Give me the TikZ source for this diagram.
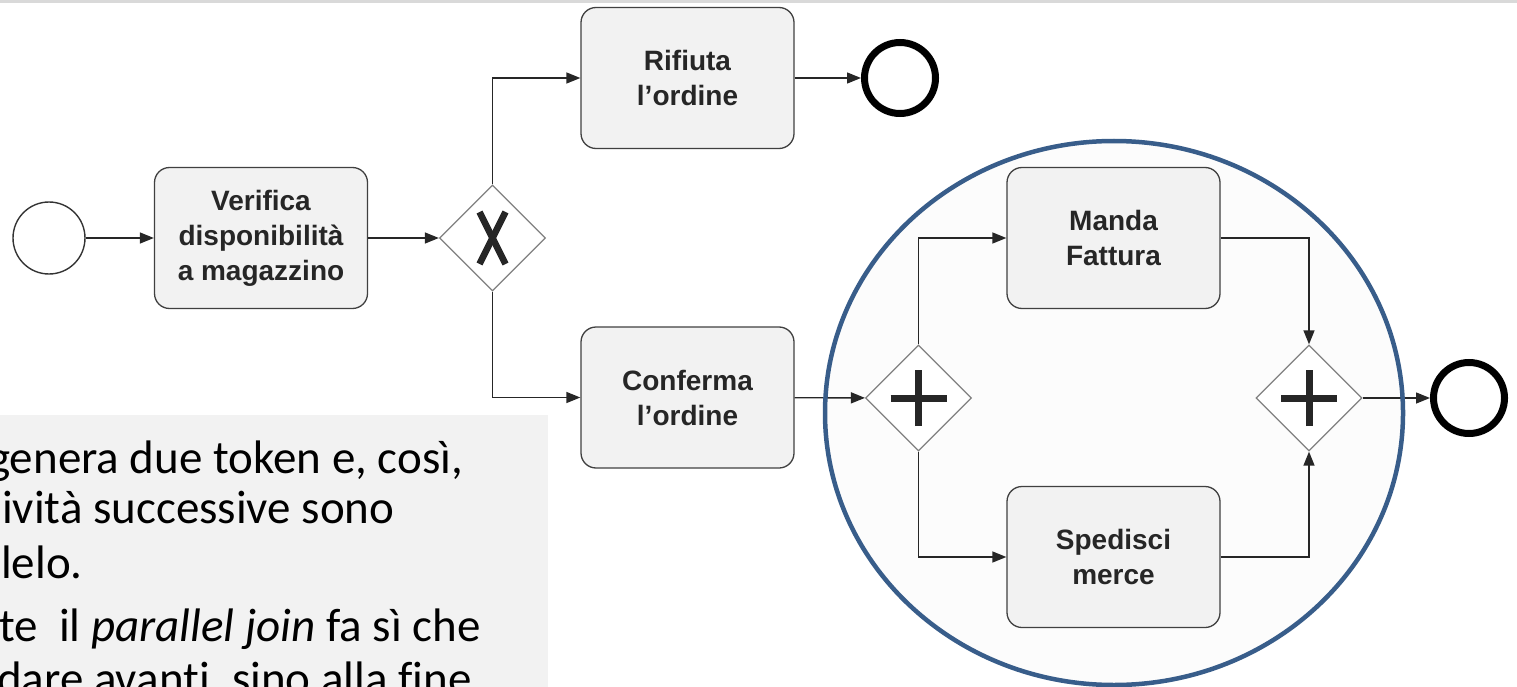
\documentclass[tikz,border=0pt]{standalone}
\usepackage{fontspec}
\setmainfont{Liberation Sans}
\newfontfamily\notefont[Ligatures=NoCommon]{Carlito}
\usetikzlibrary{shapes.geometric,arrows.meta}

\definecolor{taskfill}{HTML}{F2F2F2}
\definecolor{taskline}{HTML}{404040}
\definecolor{gateline}{HTML}{808080}
\definecolor{ringblue}{HTML}{385D8A}
\definecolor{ringfill}{HTML}{FCFCFC}
\definecolor{notefill}{HTML}{F2F2F2}
\definecolor{stripgray}{HTML}{D9D9D9}

\tikzset{
  task/.style={draw=taskline, fill=taskfill, rounded corners=15pt, line width=1.3pt,
    minimum width=213pt, minimum height=141pt, inner sep=0pt, align=center,
    text=black!85, font=\fontsize{28}{35}\selectfont\bfseries},
  gate/.style={diamond, draw=gateline, fill=white, line width=1.3pt,
    minimum width=106pt, minimum height=106pt, inner sep=0pt},
  startev/.style={circle, draw=black!80, line width=1.4pt, minimum size=72pt, inner sep=0pt},
  endev/.style={circle, draw=black, line width=7pt, minimum size=71pt, inner sep=0pt},
  flow/.style={draw=black!85, line width=1.4pt, -{Triangle[length=14pt,width=11pt]}},
  gatemark/.style={draw=black!85, line width=6.5pt},
  notetext/.style={anchor=base west, inner sep=0pt, font=\notefont\fontsize{47}{56}\selectfont},
}

\begin{document}
\begin{tikzpicture}[x=1pt,y=-1pt]
\useasboundingbox (0,0) rectangle (1517,687);
\clip (0,0) rectangle (1517,687);
\fill[stripgray] (0,0) rectangle (1517,3);
\fill[ringfill] (1114,413) ellipse [x radius=289, y radius=272];

% note box
\fill[notefill] (0,415) rectangle (548,687);
\node[notetext] (l1) at (-12,473) {genera due token e, così,};
\node[notetext] (l2) at (2,523) {ività successive sono};
\node[notetext] (l3) at (1,578) {lelo.};
\node[notetext] (l4) at (-1,641) {te\ \ il \textit{parallel join} fa sì che};
\node[notetext] (l5) at (-3,694) {dare avanti, sino alla fine};

% process
\node[startev] (start) at (49,238) {};
\node[task] (verifica) at (261,238) {Verifica\\disponibilità\\a magazzino};
\node[gate] (xor) at (492.5,238) {};
\node[task] (rifiuta) at (687.5,78) {Rifiuta\\l’ordine};
\node[endev] (endtop) at (900,78) {};
\node[task] (conferma) at (687.5,397.5) {Conferma\\l’ordine};
\node[gate] (split) at (918.5,398) {};
\node[task] (manda) at (1113.5,238) {Manda\\Fattura};
\node[task] (spedisci) at (1113.5,557) {Spedisci\\merce};
\node[gate] (join) at (1309,398) {};
\node[endev] (endright) at (1469,398) {};

\draw[gatemark] ([shift={(-13,-26)}]xor.center) -- ([shift={(13,26)}]xor.center);
\draw[gatemark] ([shift={(13,-26)}]xor.center) -- ([shift={(-13,26)}]xor.center);
\foreach \g in {split,join} {
  \draw[gatemark, line width=7pt] ([xshift=-28pt]\g.center) -- ([xshift=28pt]\g.center);
  \draw[gatemark, line width=7pt] ([yshift=-28pt]\g.center) -- ([yshift=28pt]\g.center);
}

\draw[flow] (start) -- (verifica);
\draw[flow] (verifica) -- (xor);
\draw[flow] (xor.north) |- (rifiuta.west);
\draw[flow] (rifiuta) -- (endtop);
\draw[flow] (xor.south) |- (conferma.west);
\draw[flow] (conferma) -- (split);
\draw[flow] (split.north) |- (manda.west);
\draw[flow] (split.south) |- (spedisci.west);
\draw[flow] (manda.east) -| (join.north);
\draw[flow] (spedisci.east) -| (join.south);
\draw[flow] (join) -- (endright);

\draw[ringblue, line width=4.5pt] (1114,413) ellipse [x radius=289, y radius=272];
\end{tikzpicture}
\end{document}
